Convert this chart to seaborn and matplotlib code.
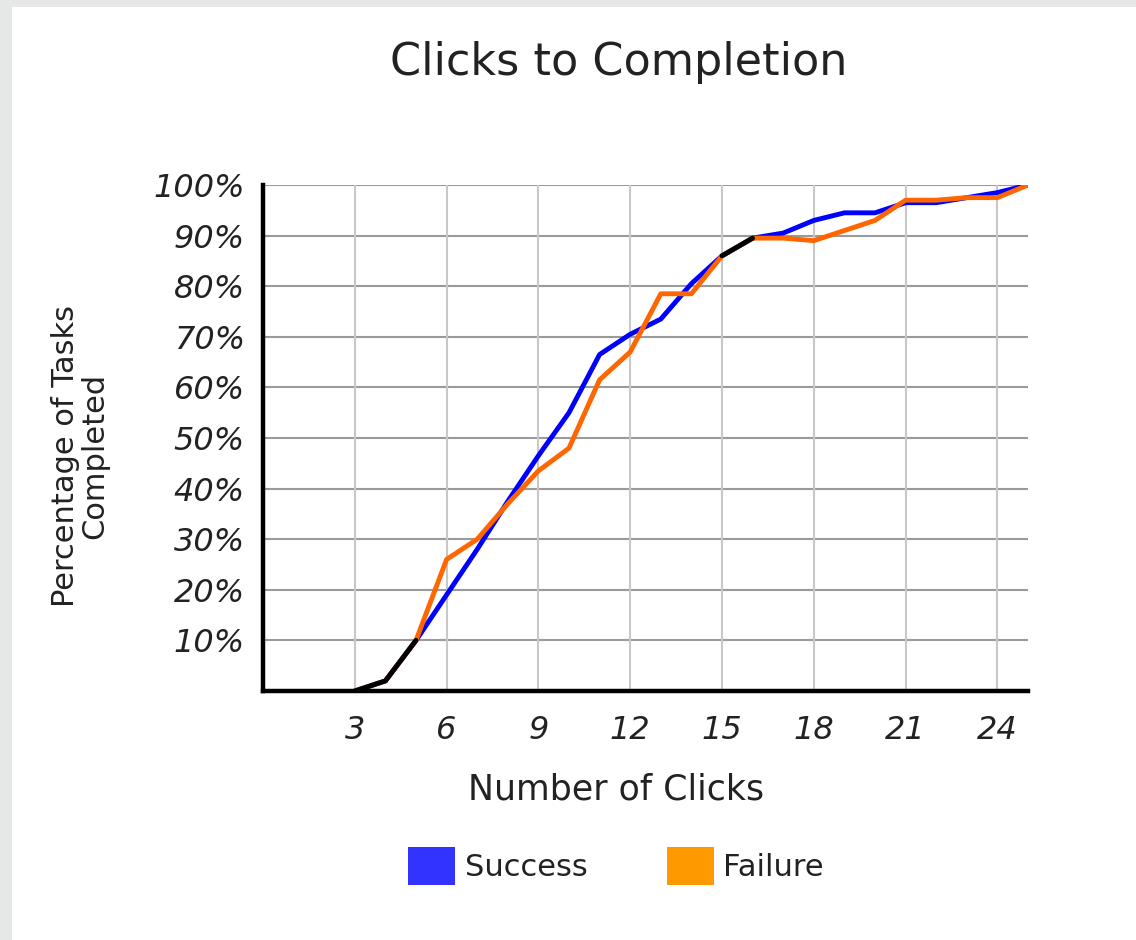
import numpy as np
import pandas as pd
import matplotlib
matplotlib.use("Agg")
import matplotlib.pyplot as plt
from matplotlib.patches import Patch, Rectangle
import seaborn as sns

# Data
clicks = list(range(3, 26))
success = [0, 2, 10, 19, 28, 37.5, 46.5, 55, 66.5, 70.5, 73.5, 80.5, 86, 89.5,
           90.5, 93, 94.5, 94.5, 96.5, 96.5, 97.5, 98.5, 100]
failure = [0, 2, 10, 26, 30, 37, 43.5, 48, 61.5, 67, 78.5, 78.5, 86, 89.5,
           89.5, 89, 91, 93, 97, 97, 97.5, 97.5, 100]
series_names = ["Success", "Failure"]
line_colors = {"Success": "#0000FF", "Failure": "#FF6600"}
legend_colors = {"Success": "#3333FF", "Failure": "#FF9900"}
x_ticks = [3, 6, 9, 12, 15, 18, 21, 24]
y_ticks = [10, 20, 30, 40, 50, 60, 70, 80, 90, 100]

df = pd.DataFrame({
    "Clicks": clicks * 2,
    "Percent": success + failure,
    "Outcome": ["Success"] * len(clicks) + ["Failure"] * len(clicks),
})

sns.set_theme(style="white")
plt.rcParams["font.family"] = ["DejaVu Sans"]
text_color = "#222222"

fig = plt.figure(figsize=(11.36, 9.4), dpi=100)
fig.patch.set_facecolor("#E6E8E8")
fig.patches.append(Rectangle((12 / 1136, 0), 1, 1 - 7 / 940, transform=fig.transFigure,
                             facecolor="white", edgecolor="none", zorder=-5))

ax = fig.add_axes([263 / 1136, 1 - 691 / 940, 765 / 1136, 506 / 940])
ax.set_facecolor("white")

# grid
for yv in y_ticks:
    ax.axhline(yv, color="#9A9A9A", lw=1.5, zorder=1)
for xv in x_ticks:
    ax.axvline(xv, color="#C8C8C8", lw=1.5, zorder=1)

sns.lineplot(data=df, x="Clicks", y="Percent", hue="Outcome", hue_order=series_names,
             palette=line_colors, linewidth=3.5, legend=False, ax=ax, zorder=3)

# where both curves coincide the original renders them dark
s_arr = np.array(success, dtype=float)
f_arr = np.array(failure, dtype=float)
overlap = np.where(np.isclose(s_arr, f_arr), s_arr, np.nan)
ax.plot(clicks, overlap, color="black", lw=3.5, zorder=4, solid_capstyle="round")

ax.set_xlim(0, 25)
ax.set_ylim(0, 100)
ax.set_xticks(x_ticks)
ax.set_yticks(y_ticks)
ax.set_yticklabels([f"{v}%" for v in y_ticks])
ax.tick_params(axis="both", length=0, labelsize=23, colors=text_color)
ax.tick_params(axis="y", pad=13)
ax.tick_params(axis="x", pad=17)
for lab in ax.get_xticklabels() + ax.get_yticklabels():
    lab.set_fontstyle("italic")

for side in ["top", "right"]:
    ax.spines[side].set_visible(False)
for side in ["left", "bottom"]:
    ax.spines[side].set_color("black")
    ax.spines[side].set_linewidth(3.2)
    ax.spines[side].set_zorder(5)

ax.set_xlabel("Number of Clicks", fontsize=25, color=text_color)
ax.set_ylabel("")
ax.xaxis.set_label_coords((616 - 263) / 765, (691 - 773) / 506)
ax.xaxis.label.set_va("top")
fig.text(80 / 1136, 1 - 456 / 940, "Percentage of Tasks\nCompleted", rotation=90,
         ha="center", va="center", fontsize=22, color=text_color, linespacing=1.0)

fig.text(619 / 1136, 1 - 63 / 940, "Clicks to Completion", ha="center", va="center",
         fontsize=32, color=text_color)

handles = [Patch(facecolor=legend_colors[n], edgecolor="none", label=n) for n in series_names]
fig.legend(handles=handles, loc="center", bbox_to_anchor=(616 / 1136, 1 - 866 / 940),
           ncol=2, frameon=False, fontsize=22, handlelength=1.55, handleheight=1.55,
           handletextpad=0.3, columnspacing=2.6, labelcolor=text_color)

fig.savefig("out.png", dpi=100)
